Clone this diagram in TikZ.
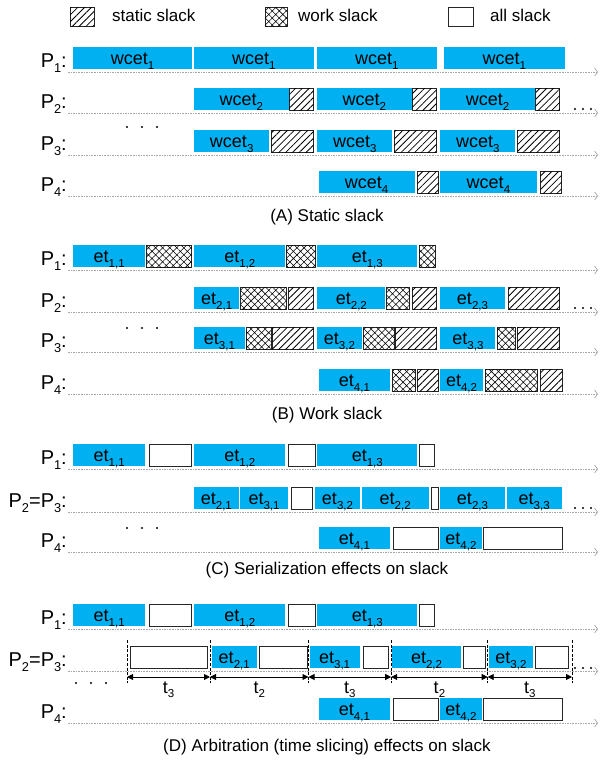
\documentclass[tikz,border=0pt]{standalone}
\usepackage{fontspec}
\setmainfont{Liberation Sans}
\usetikzlibrary{patterns.meta,arrows.meta}
\definecolor{barblue}{HTML}{00B0F0}
\definecolor{axisgray}{HTML}{A6A6A6}
\newcommand\zsub[1]{\raisebox{-0.25em}{\scalebox{0.64}{#1}}}
\tikzset{
  bartxt/.style={anchor=base,inner sep=0pt,font=\fontsize{18}{21}\selectfont},
  plab/.style={anchor=base east,inner sep=0pt,font=\fontsize{20}{24}\selectfont},
  captxt/.style={anchor=center,inner sep=0pt,font=\fontsize{17}{20}\selectfont},
  legtxt/.style={anchor=base west,inner sep=0pt,font=\fontsize{17}{20}\selectfont},
  slackframe/.style={draw=black!85,line width=0.9pt},
  statpat/.style={slackframe,fill=white,postaction={pattern={Lines[angle=45,distance=4.8pt,line width=0.8pt]}}},
  workpat/.style={slackframe,fill=white,postaction={pattern={Hatch[angle=45,distance=5pt,line width=0.55pt]}}},
  allpat/.style={slackframe,fill=white},
  axisline/.style={draw=axisgray,line width=0.7pt,dash pattern=on 1.6pt off 1pt,-{Straight Barb[length=3pt,width=8pt,line width=0.7pt]}},
  dimline/.style={line width=0.9pt,{Triangle[length=6pt,width=6pt]}-{Triangle[length=6pt,width=6pt]}},
  slicedash/.style={line width=0.6pt,dash pattern=on 3pt off 1.6pt},
  dotmark/.style={fill=black,draw=none}
}
% blue bar: name, x1, x2, axis y, text
\newcommand\zzblue[5]{%
  \fill[barblue] (#2,#4-25) rectangle (#3,#4-3);
  \node[bartxt] (#1) at ({(#2+#3)/2},#4-7.5) {#5};}
\newcommand\zzstat[3]{\draw[statpat] (#1,#3-25) rectangle (#2,#3-3);}
\newcommand\zzwork[3]{\draw[workpat] (#1,#3-25) rectangle (#2,#3-3);}
\newcommand\zzall[3]{\draw[allpat] (#1,#3-25) rectangle (#2,#3-3);}
% axis: name, y
\newcommand\zzaxis[2]{%
  \coordinate (#1s) at (68,#2);
  \coordinate (#1e) at (598,#2);
  \draw[axisline] (#1s) -- (#1e);}
\newcommand\zzdotsR[1]{\foreach \q in {575,583,591}{\fill[dotmark] (\q,#1) circle (1.1);}}
\newcommand\zzdotsL[2]{\foreach \q in {0,15,30}{\fill[dotmark] (#1+\q,#2) circle (1.1);}}
\begin{document}
\begin{tikzpicture}[x=1pt,y=-1pt]
\useasboundingbox (0,0) rectangle (602,764);
% ---------------- legend
\draw[statpat] (70,7) rectangle (94,26);
\node[legtxt] (lgs) at (112,21) {static slack};
\draw[workpat] (265,7) rectangle (287,26);
\node[legtxt] (lgw) at (298,21) {work slack};
\draw[allpat] (448,7) rectangle (473,26);
\node[legtxt] (lga) at (490,21) {all slack};
% ================= (A)
\zzaxis{aA1}{72}
\node[plab] (pA1) at (67,67) {P\zsub{1}:};
\zzblue{A11}{73}{192.3}{72}{wcet\zsub{1}}
\zzblue{A12}{194.2}{313.5}{72}{wcet\zsub{1}}
\zzblue{A13}{317.3}{436.5}{72}{wcet\zsub{1}}
\zzblue{A14}{444.2}{564.6}{72}{wcet\zsub{1}}
\zzaxis{aA2}{113}
\node[plab] (pA2) at (67,108) {P\zsub{2}:};
\zzblue{A21}{194.2}{288.5}{113}{wcet\zsub{2}}
\zzstat{289.2}{313.5}{113}
\zzblue{A22}{317.3}{411.5}{113}{wcet\zsub{2}}
\zzstat{412.3}{436.5}{113}
\zzblue{A23}{440.4}{534.6}{113}{wcet\zsub{2}}
\zzstat{535.8}{559.6}{113}
\zzdotsR{109}
\zzaxis{aA3}{155}
\node[plab] (pA3) at (67,150) {P\zsub{3}:};
\zzblue{A31}{194.2}{269.2}{155}{wcet\zsub{3}}
\zzstat{271.2}{313.5}{155}
\zzblue{A32}{317.3}{392.3}{155}{wcet\zsub{3}}
\zzstat{394.2}{436.5}{155}
\zzblue{A33}{440.4}{515.4}{155}{wcet\zsub{3}}
\zzstat{517.3}{559.6}{155}
\zzdotsL{127}{127}
\zzaxis{aA4}{196}
\node[plab] (pA4) at (67,191) {P\zsub{4}:};
\zzblue{A41}{318.5}{414.6}{196}{wcet\zsub{4}}
\zzstat{417.3}{438.5}{196}
\zzblue{A42}{440.4}{536.5}{196}{wcet\zsub{4}}
\zzstat{540.4}{561.5}{196}
\node[captxt] (capA) at (327,217) {(A) Static slack};
% ================= (B)
\zzaxis{aB1}{270}
\node[plab] (pB1) at (67,265) {P\zsub{1}:};
\zzblue{B11}{73}{145.4}{270}{et\zsub{1,1}}
\zzwork{146.2}{191.5}{270}
\zzblue{B12}{194.2}{285.4}{270}{et\zsub{1,2}}
\zzwork{286.2}{315.4}{270}
\zzblue{B13}{317.3}{417.3}{270}{et\zsub{1,3}}
\zzwork{419.2}{435.4}{270}
\zzaxis{aB2}{312}
\node[plab] (pB2) at (67,307) {P\zsub{2}:};
\zzblue{B21}{194.2}{239.2}{312}{et\zsub{2,1}}
\zzwork{240.8}{286.5}{312}
\zzstat{288.5}{313.5}{312}
\zzblue{B22}{317.3}{385.4}{312}{et\zsub{2,2}}
\zzwork{386.5}{409.6}{312}
\zzstat{412.3}{436.5}{312}
\zzblue{B23}{440.4}{504.6}{312}{et\zsub{2,3}}
\zzstat{508.5}{559.6}{312}
\zzdotsR{308}
\zzaxis{aB3}{352}
\node[plab] (pB3) at (67,347) {P\zsub{3}:};
\zzblue{B31}{194.2}{244.6}{352}{et\zsub{3,1}}
\zzwork{246.2}{271.2}{352}
\zzstat{272.3}{313.5}{352}
\zzblue{B32}{317.3}{361.5}{352}{et\zsub{3,2}}
\zzwork{363.5}{394.2}{352}
\zzstat{395.4}{436.5}{352}
\zzblue{B33}{440.4}{495.4}{352}{et\zsub{3,3}}
\zzwork{497.3}{515.4}{352}
\zzstat{517.3}{559.6}{352}
\zzdotsL{127}{328}
\zzaxis{aB4}{394}
\node[plab] (pB4) at (67,389) {P\zsub{4}:};
\zzblue{B41}{318.5}{390.4}{394}{et\zsub{4,1}}
\zzwork{392.3}{415.4}{394}
\zzstat{417.3}{438.5}{394}
\zzblue{B42}{440.4}{482.7}{394}{et\zsub{4,2}}
\zzwork{485.4}{537.7}{394}
\zzstat{540.4}{562.3}{394}
\node[captxt] (capB) at (327,415) {(B) Work slack};
% ================= (C)
\zzaxis{aC1}{469}
\node[plab] (pC1) at (67,464) {P\zsub{1}:};
\zzblue{C11}{73}{145.4}{469}{et\zsub{1,1}}
\zzall{149.2}{191.5}{469}
\zzblue{C12}{194.2}{285.4}{469}{et\zsub{1,2}}
\zzall{288.5}{315.4}{469}
\zzblue{C13}{317.3}{417.3}{469}{et\zsub{1,3}}
\zzall{419.2}{434.6}{469}
\zzaxis{aC2}{512}
\node[plab] (pC2) at (67,507) {P\zsub{2}=P\zsub{3}:};
\zzblue{C21}{194.2}{238.5}{512}{et\zsub{2,1}}
\zzblue{C22}{240.4}{287.7}{512}{et\zsub{3,1}}
\zzall{291.5}{312.3}{512}
\zzblue{C23}{315.4}{359.6}{512}{et\zsub{3,2}}
\zzblue{C24}{361.5}{428.8}{512}{et\zsub{2,2}}
\zzall{431.5}{438.5}{512}
\zzblue{C25}{440.4}{504.6}{512}{et\zsub{2,3}}
\zzblue{C26}{506.9}{561.5}{512}{et\zsub{3,3}}
\zzdotsR{508}
\zzaxis{aC3}{552}
\node[plab] (pC3) at (67,547) {P\zsub{4}:};
\zzblue{C31}{318.5}{390.4}{552}{et\zsub{4,1}}
\zzall{393}{438.5}{552}
\zzblue{C32}{440.4}{481.5}{552}{et\zsub{4,2}}
\zzall{483.8}{562.3}{552}
\zzdotsL{127}{528}
\node[captxt] (capC) at (327,570) {(C) Serialization effects on slack};
% ================= (D)
\zzaxis{aD1}{629}
\node[plab] (pD1) at (67,624) {P\zsub{1}:};
\zzblue{D11}{73}{145.4}{629}{et\zsub{1,1}}
\zzall{149.2}{191.5}{629}
\zzblue{D12}{194.2}{285.4}{629}{et\zsub{1,2}}
\zzall{288.5}{315.4}{629}
\zzblue{D13}{317.3}{417.3}{629}{et\zsub{1,3}}
\zzall{419.2}{434.6}{629}
% slices
\foreach \k/\xx in {0/127,1/210,2/308.5,3/391.2,4/487.7,5/572}{
  \coordinate (st\k) at (\xx,640);
  \coordinate (sb\k) at (\xx,683);
  \coordinate (sm\k) at (\xx,677);
  \draw[slicedash] (st\k) -- (sb\k);
}
\zzaxis{aD2}{671}
\node[plab] (pD2) at (67,666) {P\zsub{2}=P\zsub{3}:};
\zzall{130}{207.7}{671}
\zzblue{D21}{211.5}{257}{671}{et\zsub{2,1}}
\zzall{259.6}{307}{671}
\zzblue{D22}{309.6}{359.6}{671}{et\zsub{3,1}}
\zzall{363.5}{388.5}{671}
\zzblue{D23}{392.3}{460.8}{671}{et\zsub{2,2}}
\zzall{463.5}{485.4}{671}
\zzblue{D24}{489.2}{532.7}{671}{et\zsub{3,2}}
\zzall{535.8}{568.5}{671}
\zzdotsR{668}
\draw[dimline] (sm0) -- (sm1) node[midway,below=4pt,bartxt,anchor=north] (tA) {t\zsub{3}};
\draw[dimline] (sm1) -- (sm2) node[midway,below=4pt,bartxt,anchor=north] (tB) {t\zsub{2}};
\draw[dimline] (sm2) -- (sm3) node[midway,below=4pt,bartxt,anchor=north] (tC) {t\zsub{3}};
\draw[dimline] (sm3) -- (sm4) node[midway,below=4pt,bartxt,anchor=north] (tD) {t\zsub{2}};
\draw[dimline] (sm4) -- (sm5) node[midway,below=4pt,bartxt,anchor=north] (tE) {t\zsub{3}};
\zzdotsL{76}{683}
\zzaxis{aD3}{723}
\node[plab] (pD3) at (67,718) {P\zsub{4}:};
\zzblue{D31}{318.5}{390.4}{723}{et\zsub{4,1}}
\zzall{393}{438.5}{723}
\zzblue{D32}{440.4}{481.5}{723}{et\zsub{4,2}}
\zzall{483.8}{562.3}{723}
\node[captxt] (capD) at (327,747) {(D) Arbitration (time slicing) effects on slack};
\end{tikzpicture}
\end{document}
